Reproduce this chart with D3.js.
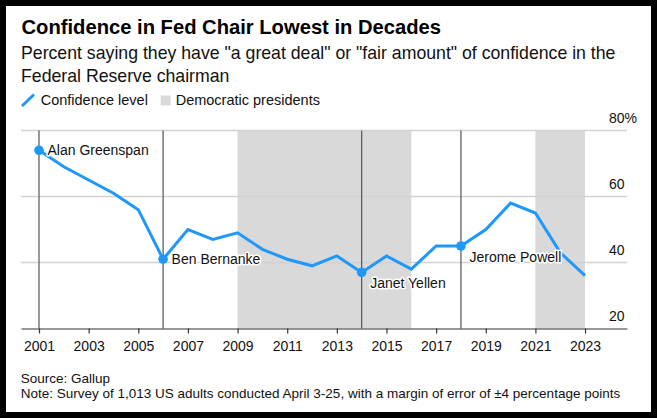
<!DOCTYPE html>
<html>
<head>
<meta charset="utf-8">
<script src="https://cdn.jsdelivr.net/npm/d3@7"></script>
<style>
  html, body { margin: 0; padding: 0; background: #000; }
  svg { display: block; font-family: "Liberation Sans", Arial, Helvetica, sans-serif; }
</style>
</head>
<body>
<script>
// ---- data ----
const years = [2001,2002,2003,2004,2005,2006,2007,2008,2009,2010,2011,2012,2013,2014,2015,2016,2017,2018,2019,2020,2021,2022,2023];
const confidence = [74,69,65,61,56,41,50,47,49,44,41,39,42,37,42,38,45,45,50,58,55,43,36];
const democraticStart = [2009, 2021];
const democraticEnd = [2016, 2023];
const chairNames = ["Alan Greenspan", "Ben Bernanke", "Janet Yellen", "Jerome Powell"];
const chairYears = [2001, 2006, 2014, 2018];
const chairLabelBelow = [false, false, true, true];
const xTickYears = [2001,2003,2005,2007,2009,2011,2013,2015,2017,2019,2021,2023];
const yTickValues = [20, 40, 60, 80];
const yTickLabels = ["20", "40", "60", "80%"];

const W = 657, H = 418;
const blue = "#1e98fb";
const shade = "#d9d9d9";

const svg = d3.select("body").append("svg").attr("width", W).attr("height", H);

// frame
svg.append("rect").attr("x", 0).attr("y", 0).attr("width", W).attr("height", H).attr("fill", "#000");
svg.append("rect").attr("x", 6).attr("y", 6).attr("width", 645).attr("height", 406).attr("fill", "#fff");

// scales
const x = d3.scaleLinear().domain([2000.275, 2024.69]).range([21, 627]);
const y = d3.scaleLinear().domain([20, 80]).range([328.5, 130.5]);

// title, subtitle
svg.append("text").attr("x", 21.5).attr("y", 34.3)
  .attr("font-size", 20.2).attr("font-weight", "bold").attr("fill", "#000")
  .text("Confidence in Fed Chair Lowest in Decades");
const sub = ["Percent saying they have \"a great deal\" or \"fair amount\" of confidence in the", "Federal Reserve chairman"];
svg.selectAll("text.sub").data(sub).enter().append("text").attr("class", "sub")
  .attr("x", 21).attr("y", (d, i) => 59 + i * 22.7)
  .attr("font-size", 17.7).attr("fill", "#111").text(d => d);

// legend
svg.append("line").attr("x1", 22).attr("y1", 106).attr("x2", 34).attr("y2", 94.5)
  .attr("stroke", blue).attr("stroke-width", 3);
svg.append("text").attr("x", 40.7).attr("y", 105).attr("font-size", 14.5).attr("fill", "#111").text("Confidence level");
svg.append("rect").attr("x", 160.7).attr("y", 95.5).attr("width", 10).attr("height", 10).attr("fill", shade);
svg.append("text").attr("x", 175.7).attr("y", 105).attr("font-size", 14.5).attr("fill", "#111").text("Democratic presidents");

// shaded periods
svg.selectAll("rect.dem").data(democraticStart).enter().append("rect").attr("class", "dem")
  .attr("x", d => x(d)).attr("width", (d, i) => x(democraticEnd[i]) - x(d))
  .attr("y", y(80)).attr("height", y(20) - y(80)).attr("fill", shade);

// gridlines
svg.selectAll("line.grid").data(yTickValues.filter(v => v > 20)).enter().append("line").attr("class", "grid")
  .attr("x1", 21).attr("x2", 627).attr("y1", d => y(d)).attr("y2", d => y(d))
  .attr("stroke", "#d2d2d2").attr("stroke-width", 1.5);

// y labels
svg.selectAll("text.ylab").data(yTickValues).enter().append("text").attr("class", "ylab")
  .attr("x", 609).attr("y", d => y(d) - 8).attr("font-size", 14).attr("fill", "#111")
  .text((d, i) => yTickLabels[i]);

// chair vertical lines
svg.selectAll("line.chair").data(chairYears).enter().append("line").attr("class", "chair")
  .attr("x1", d => x(d)).attr("x2", d => x(d)).attr("y1", y(80)).attr("y2", y(20))
  .attr("stroke", "#555").attr("stroke-width", 1.2);

// x axis
const xAxis = d3.axisBottom(x).tickValues(xTickYears).tickFormat(d3.format("d")).tickSize(5).tickPadding(8).tickSizeOuter(0);
const gx = svg.append("g").attr("transform", `translate(0,${y(20)})`).call(xAxis);
gx.select(".domain").attr("stroke", "#333").attr("stroke-width", 1.2);
gx.selectAll(".tick line").attr("stroke", "#333").attr("stroke-width", 1.2);
gx.selectAll(".tick text").attr("font-size", 14).attr("fill", "#111")
  .attr("font-family", "\"Liberation Sans\", Arial, sans-serif");

// line
const line = d3.line().x((d, i) => x(years[i])).y(d => y(d));
svg.append("path").datum(confidence).attr("d", line)
  .attr("fill", "none").attr("stroke", blue).attr("stroke-width", 3).attr("stroke-linejoin", "miter");

// chair dots and labels
chairYears.forEach((yr, i) => {
  const v = confidence[years.indexOf(yr)];
  svg.append("circle").attr("cx", x(yr)).attr("cy", y(v)).attr("r", 4.8).attr("fill", blue);
  svg.append("text")
    .attr("x", x(yr) + 8.5)
    .attr("y", chairLabelBelow[i] ? y(v) + 15.5 : y(v) + 5)
    .attr("font-size", 14).attr("fill", "#111")
    .attr("stroke", "#fff").attr("stroke-width", 3).attr("paint-order", "stroke").attr("stroke-linejoin", "round")
    .text(chairNames[i]);
});

// footer
svg.append("text").attr("x", 20.7).attr("y", 383.3).attr("font-size", 13.5).attr("fill", "#111").text("Source: Gallup");
svg.append("text").attr("x", 20.7).attr("y", 398.3).attr("font-size", 13.5).attr("fill", "#111")
  .text("Note: Survey of 1,013 US adults conducted April 3-25, with a margin of error of \u00b14 percentage points");
</script>
</body>
</html>
